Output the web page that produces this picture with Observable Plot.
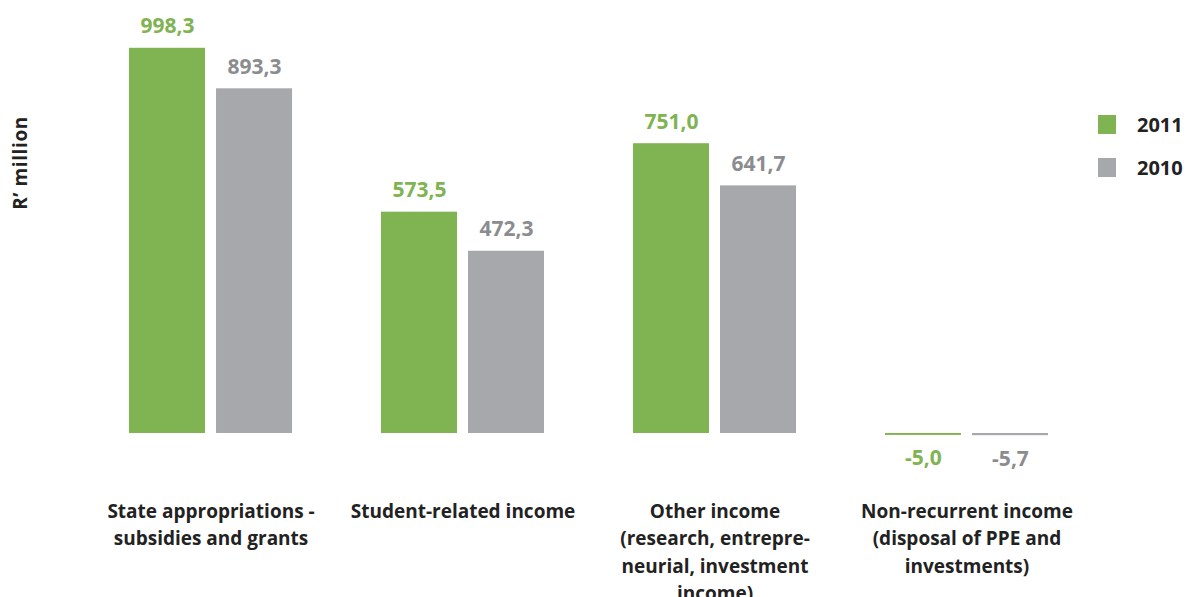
<!DOCTYPE html>
<html>
<head>
<meta charset="utf-8">
<script src="https://cdn.jsdelivr.net/npm/d3@7"></script>
<script src="https://cdn.jsdelivr.net/npm/@observablehq/plot@0.6"></script>
<style>
  html, body { margin: 0; padding: 0; background: #fff; }
  #wrap { position: relative; width: 1189px; height: 597px; overflow: hidden; font-family: "Open Sans", sans-serif; }
  #ylabel { position: absolute; left: 20px; top: 163px; transform: translate(-50%, -50%) rotate(-90deg); font-weight: bold; font-size: 19px; letter-spacing: 0.6px; color: #222; white-space: nowrap; }
  #legend { position: absolute; left: 1098px; top: 113px; font-weight: bold; font-size: 20px; color: #222; }
  .item { display: flex; align-items: center; height: 22px; margin-bottom: 21px; }
  .sw { width: 18px; height: 19px; margin-right: 21px; }
</style>
</head>
<body>
<div id="wrap">
  <div id="chart"></div>
  <div id="ylabel">R’ million</div>
  <div id="legend"></div>
</div>
<script>
const categories = [
  "State appropriations -\nsubsidies and grants",
  "Student-related income",
  "Other income\n(research, entrepre-\nneurial, investment\nincome)",
  "Non-recurrent income\n(disposal of PPE and\ninvestments)"
];
const years = ["2011", "2010"];
const values2011 = [998.3, 573.5, 751.0, -5.0];
const values2010 = [893.3, 472.3, 641.7, -5.7];
const barColors = ["#80b351", "#a7a8ab"];
const labelColors = ["#80b351", "#8b8c8f"];

const data = categories.flatMap((c, i) => [
  {cat: c, year: years[0], value: values2011[i]},
  {cat: c, year: years[1], value: values2010[i]}
]);
const fmt = v => d3.format(".1f")(v).replace(".", ",").replace("−", "-");

function valueLabels(year, color) {
  const rows = data.filter(d => d.year === year);
  return [
    Plot.text(rows.filter(d => d.value >= 0), {fx: "cat", x: "year", y: "value", text: d => fmt(d.value),
      lineAnchor: "bottom", dy: -15, fill: color, fontSize: 21, fontWeight: "bold"}),
    Plot.text(rows.filter(d => d.value < 0), {fx: "cat", x: "year", y: "value", text: d => fmt(d.value),
      lineAnchor: "top", dy: 15, fill: color, fontSize: 21, fontWeight: "bold"})
  ];
}

const chart = Plot.plot({
  width: 1189,
  height: 597,
  marginLeft: 129,
  marginRight: 141,
  marginTop: 8.55,
  marginBottom: 156.3,
  style: {fontFamily: "'Open Sans', sans-serif", background: "#fff", overflow: "visible"},
  fx: {domain: categories, paddingInner: 0.353, paddingOuter: 0, round: false, label: null},
  x: {domain: years, paddingInner: 0.1264, paddingOuter: 0, round: false, axis: null},
  y: {domain: [-20, 1100], axis: null},
  color: {domain: years, range: barColors},
  marks: [
    Plot.barY(data, {fx: "cat", x: "year", y: "value", fill: "year"}),
    ...valueLabels(years[0], labelColors[0]),
    ...valueLabels(years[1], labelColors[1]),
    Plot.axisFx({anchor: "bottom", label: null, tickSize: 0, tickPadding: 57, fontSize: 19, fontWeight: "bold", lineHeight: 1.45, fill: "#222"})
  ]
});
document.getElementById("chart").appendChild(chart);

const legend = document.getElementById("legend");
years.forEach((y, i) => {
  const it = document.createElement("div");
  it.className = "item";
  it.innerHTML = `<div class="sw" style="background:${barColors[i]}"></div><span>${y}</span>`;
  legend.appendChild(it);
});
</script>
</body>
</html>
